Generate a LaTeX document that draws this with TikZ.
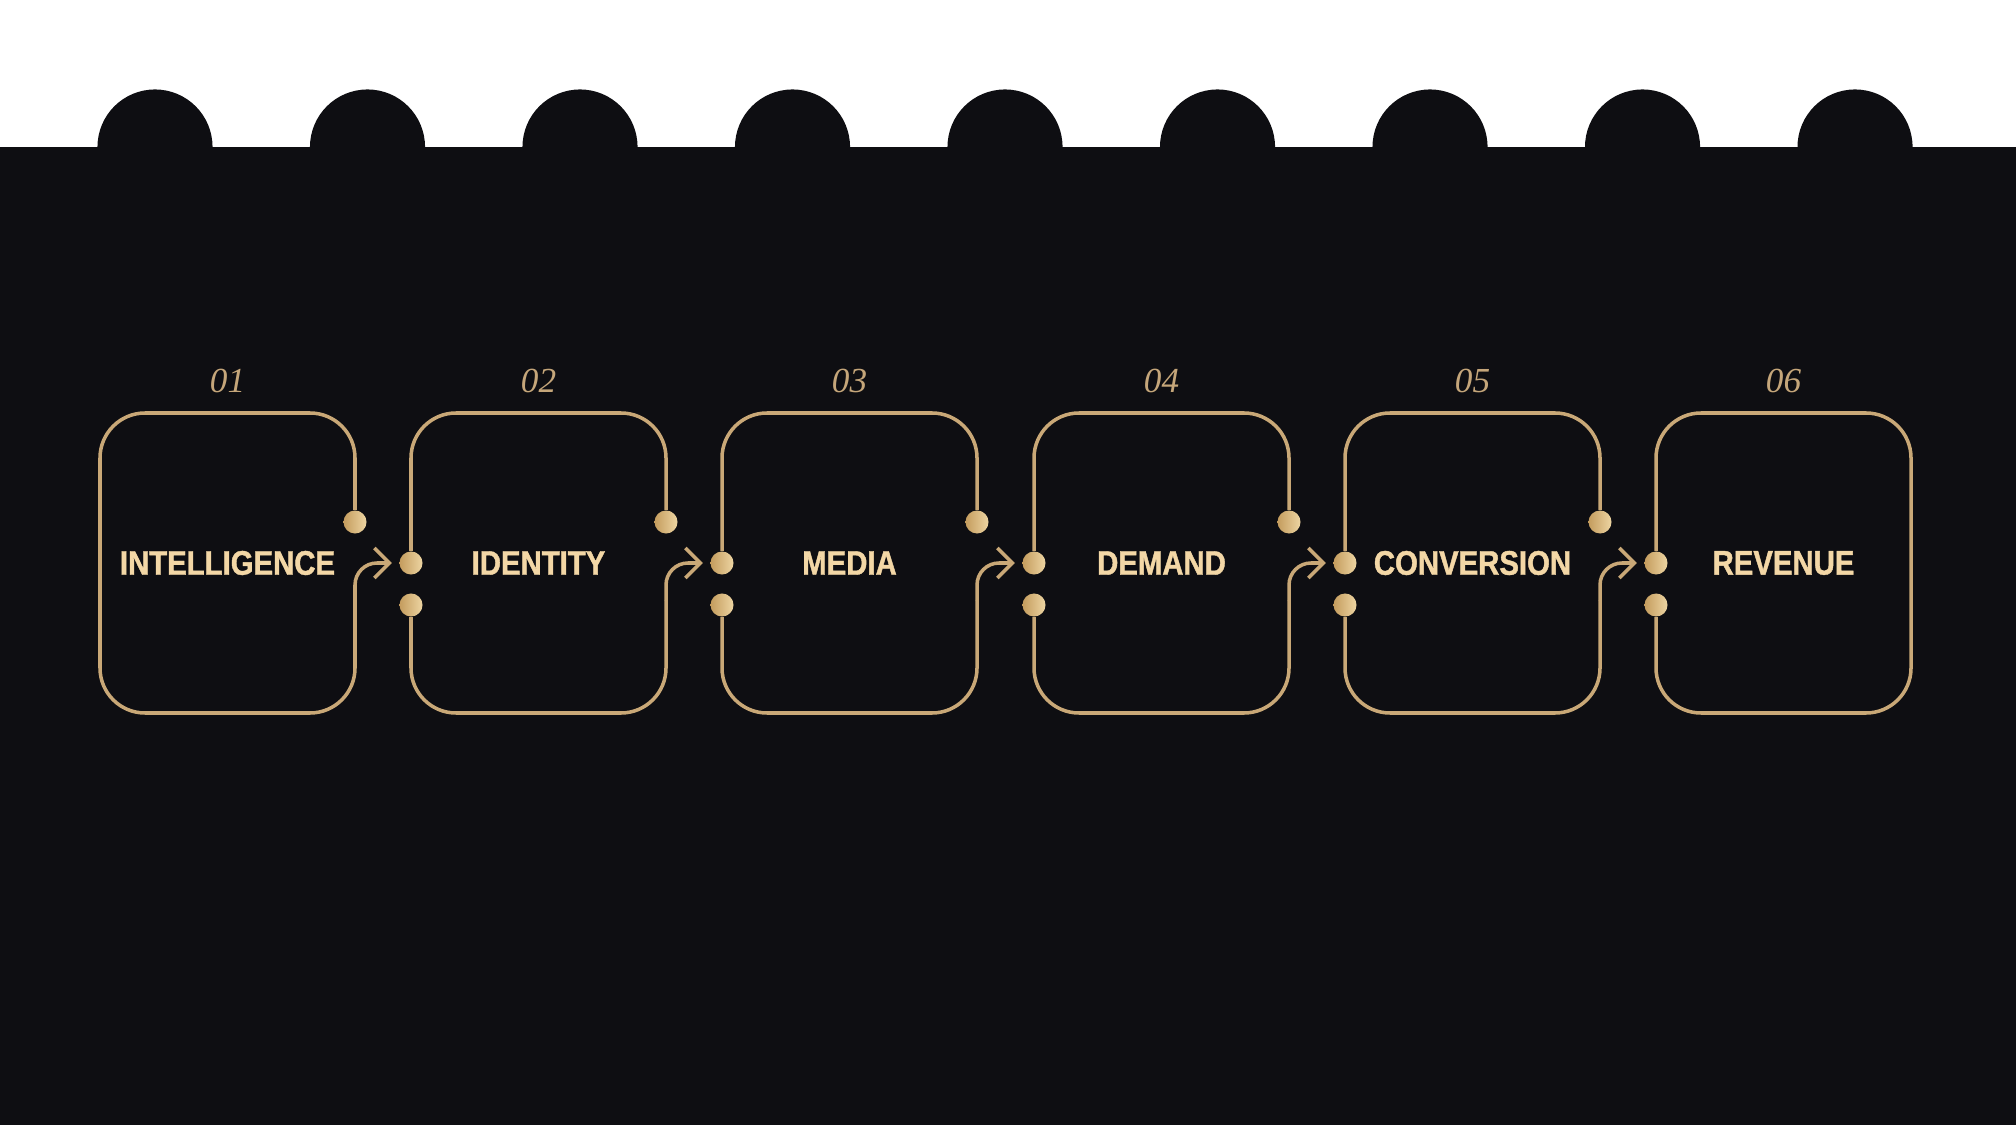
\documentclass[tikz,border=0pt]{standalone}
\usepackage{fontspec}
\usepackage{tikz}
\usetikzlibrary{positioning,arrows.meta}
\newfontfamily\labelfont[FakeStretch=0.86,FakeBold=1.2]{Liberation Sans}
\newfontfamily\numfont{Liberation Serif}
\definecolor{bg}{HTML}{0E0E12}
\definecolor{gold}{HTML}{C9A877}
\definecolor{textgold}{HTML}{F3D7A6}
\definecolor{numgold}{HTML}{C5A67A}
\definecolor{dotleft}{HTML}{C49C5E}
\definecolor{dotright}{HTML}{EDD5A3}
\begin{document}
\begin{tikzpicture}
            [x=0.01cm,y=-0.01cm,
            box/.style={minimum width=2.55cm,minimum height=3cm,inner sep=0pt,text=textgold,font=\labelfont\bfseries\fontsize{9.7}{11}\selectfont},
            num/.style={inner sep=0pt,text=numgold,font=\numfont\itshape\fontsize{10}{12}\selectfont},
            dot/.style={circle,inner sep=0pt,minimum size=0.23cm,left color=dotleft,right color=dotright},
            outline/.style={draw=gold,line width=1pt,rounded corners=0.45cm},
            flow/.style={draw=gold,line width=1pt,line cap=round,rounded corners=0.22cm,shorten >=0.07cm,-{Straight Barb[length=1.5mm,width=3mm]}}]
            \useasboundingbox (0,0) rectangle (2016,1125);
            % background with tabs
            \fill[white] (0,0) rectangle (2016,1125);
            \fill[bg] (0,147) rectangle (2016,1125);
            \fill[bg] (155,147) circle[radius=0.575cm];
            \fill[bg] (367.5,147) circle[radius=0.575cm];
            \fill[bg] (580,147) circle[radius=0.575cm];
            \fill[bg] (792.5,147) circle[radius=0.575cm];
            \fill[bg] (1005,147) circle[radius=0.575cm];
            \fill[bg] (1217.5,147) circle[radius=0.575cm];
            \fill[bg] (1430,147) circle[radius=0.575cm];
            \fill[bg] (1642.5,147) circle[radius=0.575cm];
            \fill[bg] (1855,147) circle[radius=0.575cm];
            % stages
            \node[box] (b1) at (227.5,563) {INTELLIGENCE};
            \node[box] (b2) at (538.5,563) {IDENTITY};
            \node[box] (b3) at (849.5,563) {MEDIA};
            \node[box] (b4) at (1161.5,563) {DEMAND};
            \node[box] (b5) at (1472.5,563) {CONVERSION};
            \node[box] (b6) at (1783.5,563) {REVENUE};
            \node[num,above=0.19cm of b1] (n1) {01};
            \node[num,above=0.19cm of b2] (n2) {02};
            \node[num,above=0.19cm of b3] (n3) {03};
            \node[num,above=0.19cm of b4] (n4) {04};
            \node[num,above=0.19cm of b5] (n5) {05};
            \node[num,above=0.19cm of b6] (n6) {06};
            % ports
            \node[dot] (o1) at (355,522) {};
            \node[dot] (o2) at (666,522) {};
            \node[dot] (o3) at (977,522) {};
            \node[dot] (o4) at (1289,522) {};
            \node[dot] (o5) at (1600,522) {};
            \node[dot] (a2) at (411,563) {};
            \node[dot] (a3) at (722,563) {};
            \node[dot] (a4) at (1034,563) {};
            \node[dot] (a5) at (1345,563) {};
            \node[dot] (a6) at (1656,563) {};
            \node[dot] (c2) at (411,605) {};
            \node[dot] (c3) at (722,605) {};
            \node[dot] (c4) at (1034,605) {};
            \node[dot] (c5) at (1345,605) {};
            \node[dot] (c6) at (1656,605) {};
            \coordinate (s1) at (355,600);
            \coordinate (s2) at (666,600);
            \coordinate (s3) at (977,600);
            \coordinate (s4) at (1289,600);
            \coordinate (s5) at (1600,600);
            % outlines
            \draw[outline] (o1) -- (355,413) -- (100,413) -- (100,713) -- (355,713) -- (s1);
            \draw[outline] (a2) -- (411,413) -- (666,413) -- (o2);
            \draw[outline] (c2) -- (411,713) -- (666,713) -- (s2);
            \draw[outline] (a3) -- (722,413) -- (977,413) -- (o3);
            \draw[outline] (c3) -- (722,713) -- (977,713) -- (s3);
            \draw[outline] (a4) -- (1034,413) -- (1289,413) -- (o4);
            \draw[outline] (c4) -- (1034,713) -- (1289,713) -- (s4);
            \draw[outline] (a5) -- (1345,413) -- (1600,413) -- (o5);
            \draw[outline] (c5) -- (1345,713) -- (1600,713) -- (s5);
            \draw[outline] (a6) -- (1656,413) -- (1911,413) -- (1911,713) -- (1656,713) -- (c6);
            % hand-offs
            \draw[flow] (s1) |- (a2);
            \draw[flow] (s2) |- (a3);
            \draw[flow] (s3) |- (a4);
            \draw[flow] (s4) |- (a5);
            \draw[flow] (s5) |- (a6);
        \end{tikzpicture}
\end{document}
